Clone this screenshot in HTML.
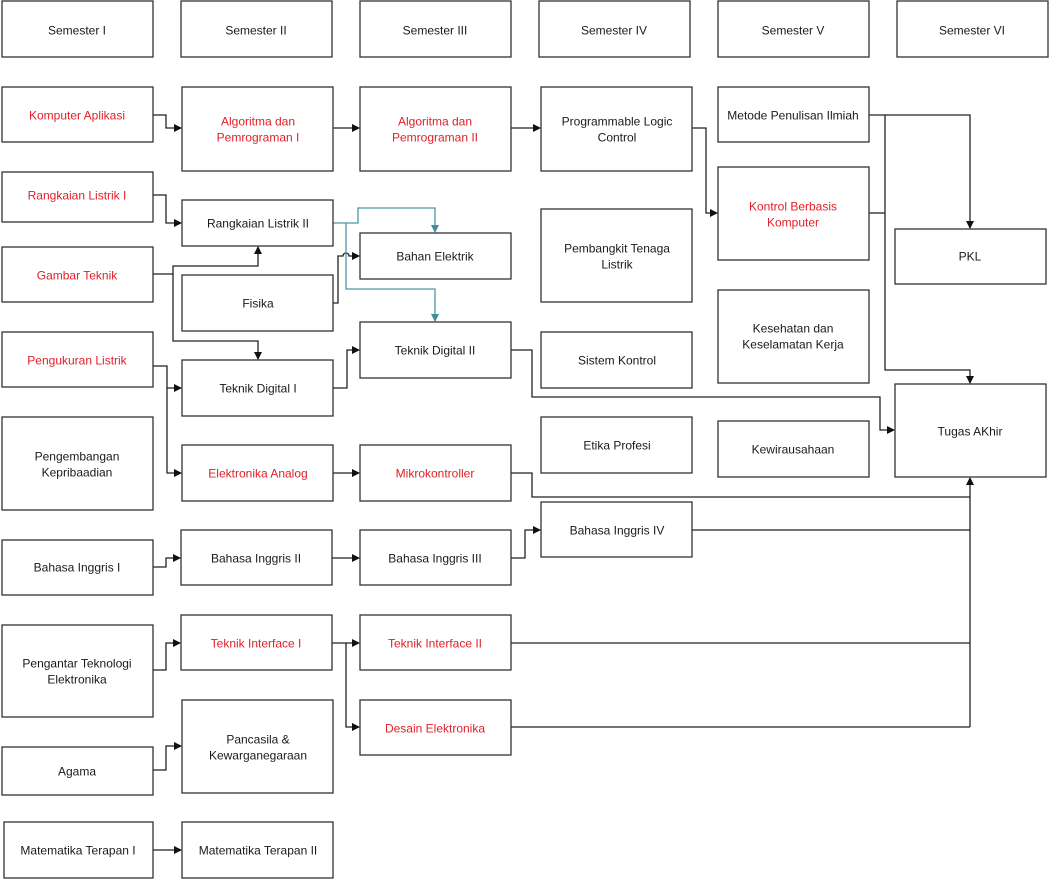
<!DOCTYPE html>
<html><head><meta charset="utf-8"><style>
html,body{margin:0;padding:0;background:#fff;}
svg{display:block;}
text{font-family:"Liberation Sans",sans-serif;font-size:12px;fill:#1a1a1a;text-anchor:middle;dominant-baseline:middle;transform:translateY(1.5px);}
text.r{fill:#e0202a;}
rect{fill:#fff;stroke:#333;stroke-width:1.3;}
.c{fill:none;stroke:#222;stroke-width:1.3;}
.t{fill:none;stroke:#4a98a8;stroke-width:1.3;}
</style></head><body>
<svg width="1050" height="880" viewBox="0 0 1050 880" xmlns="http://www.w3.org/2000/svg">
<defs>
<marker id="a" markerWidth="8" markerHeight="8" refX="7" refY="4" orient="auto" markerUnits="userSpaceOnUse"><path d="M0,0 L8,4 L0,8 z" fill="#111"/></marker>
<marker id="b" markerWidth="8" markerHeight="8" refX="7" refY="4" orient="auto" markerUnits="userSpaceOnUse"><path d="M0,0 L8,4 L0,8 z" fill="#3f8e9e"/></marker>
</defs>
<rect x="2" y="1" width="151" height="56"/><text x="77" y="30">Semester I</text>
<rect x="181" y="1" width="151" height="56"/><text x="256" y="30">Semester II</text>
<rect x="360" y="1" width="151" height="56"/><text x="435" y="30">Semester III</text>
<rect x="539" y="1" width="151" height="56"/><text x="614" y="30">Semester IV</text>
<rect x="718" y="1" width="151" height="56"/><text x="793" y="30">Semester V</text>
<rect x="897" y="1" width="151" height="56"/><text x="972" y="30">Semester VI</text>

<path class="c" d="M153,115 H166 V128 H181" marker-end="url(#a)"/>
<path class="c" d="M333,128 H359" marker-end="url(#a)"/>
<path class="c" d="M511,128 H540" marker-end="url(#a)"/>
<path class="c" d="M692,128 H706 V213 H717" marker-end="url(#a)"/>
<path class="c" d="M869,115 H970 V228" marker-end="url(#a)"/>
<path class="c" d="M885,115 V370 H970 V383" marker-end="url(#a)"/>
<path class="c" d="M869,213 H885"/>
<path class="c" d="M153,195 H166 V223 H181" marker-end="url(#a)"/>
<path class="c" d="M153,274 H173 V266 H258 V247" marker-end="url(#a)"/>
<path class="c" d="M173,274 V341 H258 V359" marker-end="url(#a)"/>
<path class="c" d="M333,303 H338 V256 H343 a3,3 0 0 1 6,0 H359" marker-end="url(#a)"/>
<path class="t" d="M333,223 H358 V208 H435 V232" marker-end="url(#b)"/>
<path class="t" d="M346,223 V289 H435 V321" marker-end="url(#b)"/>
<path class="c" d="M333,388 H347 V350 H359" marker-end="url(#a)"/>
<path class="c" d="M511,350 H532 V397 H880 V430 H894" marker-end="url(#a)"/>
<path class="c" d="M153,366 H167 V388 H181" marker-end="url(#a)"/>
<path class="c" d="M167,388 V473 H181" marker-end="url(#a)"/>
<path class="c" d="M333,473 H359" marker-end="url(#a)"/>
<path class="c" d="M511,473 H532 V497 H970"/>
<path class="c" d="M970,727 V478" marker-end="url(#a)"/>
<path class="c" d="M153,567 H166 V558 H180" marker-end="url(#a)"/>
<path class="c" d="M332,558 H359" marker-end="url(#a)"/>
<path class="c" d="M511,558 H525 V530 H540" marker-end="url(#a)"/>
<path class="c" d="M692,530 H970"/>
<path class="c" d="M153,670 H166 V643 H180" marker-end="url(#a)"/>
<path class="c" d="M332,643 H359" marker-end="url(#a)"/>
<path class="c" d="M346,643 V727 H359" marker-end="url(#a)"/>
<path class="c" d="M511,643 H970"/>
<path class="c" d="M511,727 H970"/>
<path class="c" d="M153,770 H166 V746 H181" marker-end="url(#a)"/>
<path class="c" d="M153,850 H181" marker-end="url(#a)"/>

<rect x="2" y="87" width="151" height="55"/><text class="r" x="77" y="115">Komputer Aplikasi</text>
<rect x="2" y="172" width="151" height="50"/><text class="r" x="77" y="195">Rangkaian Listrik I</text>
<rect x="2" y="247" width="151" height="55"/><text class="r" x="77" y="275">Gambar Teknik</text>
<rect x="2" y="332" width="151" height="55"/><text class="r" x="77" y="360">Pengukuran Listrik</text>
<rect x="2" y="417" width="151" height="93"/><text x="77" y="456">Pengembangan</text><text x="77" y="472">Kepribaadian</text>
<rect x="2" y="540" width="151" height="55"/><text x="77" y="567">Bahasa Inggris I</text>
<rect x="2" y="625" width="151" height="92"/><text x="77" y="663">Pengantar Teknologi</text><text x="77" y="679">Elektronika</text>
<rect x="2" y="747" width="151" height="48"/><text x="77" y="771">Agama</text>
<rect x="4" y="822" width="149" height="56"/><text x="78" y="850">Matematika Terapan I</text>
<rect x="182" y="87" width="151" height="84"/><text class="r" x="258" y="121">Algoritma dan</text><text class="r" x="258" y="137">Pemrograman I</text>
<rect x="182" y="200" width="151" height="46"/><text x="258" y="223">Rangkaian Listrik II</text>
<rect x="182" y="275" width="151" height="56"/><text x="258" y="303">Fisika</text>
<rect x="182" y="360" width="151" height="56"/><text x="258" y="388">Teknik Digital I</text>
<rect x="182" y="445" width="151" height="56"/><text class="r" x="258" y="473">Elektronika Analog</text>
<rect x="181" y="530" width="151" height="55"/><text x="256" y="558">Bahasa Inggris II</text>
<rect x="181" y="615" width="151" height="55"/><text class="r" x="256" y="643">Teknik Interface I</text>
<rect x="182" y="700" width="151" height="93"/><text x="258" y="739">Pancasila &amp;</text><text x="258" y="755">Kewarganegaraan</text>
<rect x="182" y="822" width="151" height="56"/><text x="258" y="850">Matematika Terapan II</text>
<rect x="360" y="87" width="151" height="84"/><text class="r" x="435" y="121">Algoritma dan</text><text class="r" x="435" y="137">Pemrograman II</text>
<rect x="360" y="233" width="151" height="46"/><text x="435" y="256">Bahan Elektrik</text>
<rect x="360" y="322" width="151" height="56"/><text x="435" y="350">Teknik Digital II</text>
<rect x="360" y="445" width="151" height="56"/><text class="r" x="435" y="473">Mikrokontroller</text>
<rect x="360" y="530" width="151" height="55"/><text x="435" y="558">Bahasa Inggris III</text>
<rect x="360" y="615" width="151" height="55"/><text class="r" x="435" y="643">Teknik Interface II</text>
<rect x="360" y="700" width="151" height="55"/><text class="r" x="435" y="728">Desain Elektronika</text>
<rect x="541" y="87" width="151" height="84"/><text x="617" y="121">Programmable Logic</text><text x="617" y="137">Control</text>
<rect x="541" y="209" width="151" height="93"/><text x="617" y="248">Pembangkit Tenaga</text><text x="617" y="264">Listrik</text>
<rect x="541" y="332" width="151" height="56"/><text x="617" y="360">Sistem Kontrol</text>
<rect x="541" y="417" width="151" height="56"/><text x="617" y="445">Etika Profesi</text>
<rect x="541" y="502" width="151" height="55"/><text x="617" y="530">Bahasa Inggris IV</text>
<rect x="718" y="87" width="151" height="55"/><text x="793" y="115">Metode Penulisan Ilmiah</text>
<rect x="718" y="167" width="151" height="93"/><text class="r" x="793" y="206">Kontrol Berbasis</text><text class="r" x="793" y="222">Komputer</text>
<rect x="718" y="290" width="151" height="93"/><text x="793" y="328">Kesehatan dan</text><text x="793" y="344">Keselamatan Kerja</text>
<rect x="718" y="421" width="151" height="56"/><text x="793" y="449">Kewirausahaan</text>
<rect x="895" y="229" width="151" height="55"/><text x="970" y="256">PKL</text>
<rect x="895" y="384" width="151" height="93"/><text x="970" y="431">Tugas AKhir</text>
</svg>
</body></html>
